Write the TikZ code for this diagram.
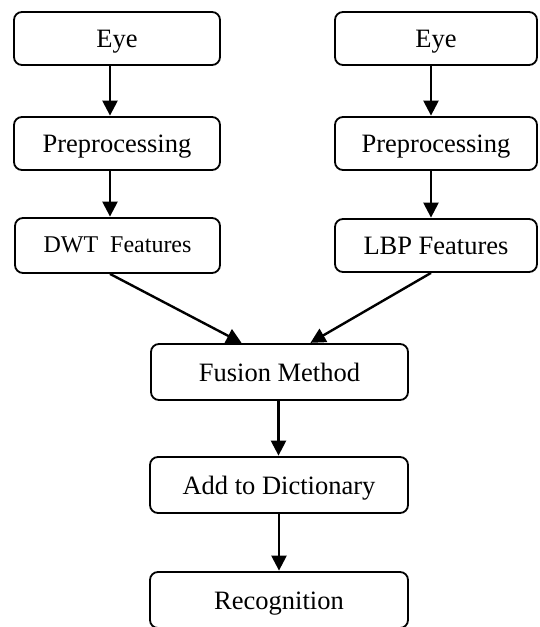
\documentclass[tikz,border=0pt]{standalone}
\usepackage{fontspec}
\setmainfont{Liberation Serif}
\usetikzlibrary{arrows.meta}
\begin{document}
\begin{tikzpicture}[x=1pt,y=-1pt,
  box/.style={draw=black, line width=1.8pt, rounded corners=8pt, rectangle, inner sep=0pt,
    font=\fontsize{26.5}{30}\selectfont, text height=18.5pt, text depth=0pt, anchor=center},
  arr/.style={line width=2.4pt, -{Triangle[length=15pt,width=15pt]}, shorten >=0.5pt}]
\useasboundingbox (0,0) rectangle (539,627);
\clip (0,0) rectangle (539,627);
\node[box, minimum width=206pt, minimum height=53pt] (eyeL) at (117,38.5) {Eye};
\node[box, minimum width=202pt, minimum height=53pt] (eyeR) at (436,38.5) {Eye};
\node[box, minimum width=206pt, minimum height=53pt] (prepL) at (117,143.5) {Preprocessing};
\node[box, minimum width=202pt, minimum height=53pt] (prepR) at (436,143.5) {Preprocessing};
\node[box, minimum width=205pt, minimum height=55pt, font=\fontsize{24}{28}\selectfont, text height=14pt] (dwt) at (117.5,245.5) {DWT\ \ Features};
\node[box, minimum width=202pt, minimum height=53pt] (lbp) at (436,245.5) {LBP Features};
\node[box, minimum width=257pt, minimum height=56pt] (fus) at (279.5,372) {Fusion Method};
\node[box, minimum width=258pt, minimum height=56pt] (add) at (279,485) {Add to Dictionary};
\node[box, minimum width=258pt, minimum height=56pt] (rec) at (279,600) {Recognition};
\draw[arr] ([xshift=-7pt]eyeL.south) -- ([xshift=-7pt]prepL.north);
\draw[arr] ([xshift=-5pt]eyeR.south) -- ([xshift=-5pt]prepR.north);
\draw[arr] ([xshift=-7pt]prepL.south) -- ([xshift=-7.5pt]dwt.north);
\draw[arr] ([xshift=-5pt]prepR.south) -- ([xshift=-5pt]lbp.north);
\draw[arr] ([xshift=-7.5pt]dwt.south) -- ([xshift=-37.5pt]fus.north);
\draw[arr] ([xshift=-5pt]lbp.south) -- ([xshift=30.5pt]fus.north);
\draw[arr] ([xshift=-1pt]fus.south) -- ([xshift=-0.5pt]add.north);
\draw[arr] (add.south) -- (rec.north);
\end{tikzpicture}
\end{document}
